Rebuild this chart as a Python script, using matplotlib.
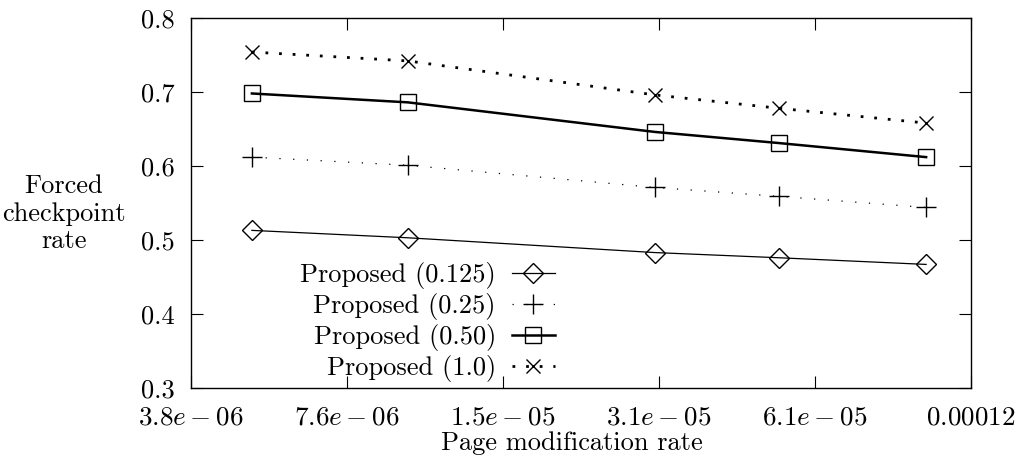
import matplotlib
matplotlib.use('Agg')
import matplotlib.pyplot as plt
import matplotlib.ticker as mticker

# fonts like the LaTeX/gnuplot original
plt.rcParams['font.family'] = 'serif'
plt.rcParams['font.serif'] = ['cmr10']
plt.rcParams['mathtext.fontset'] = 'cm'
plt.rcParams['axes.formatter.use_mathtext'] = True

# data
rates = [5e-6, 1e-5, 3e-5, 5.2e-5, 1e-4]
p0125 = [0.513, 0.503, 0.483, 0.476, 0.467]
p025 = [0.612, 0.601, 0.571, 0.559, 0.544]
p050 = [0.698, 0.686, 0.646, 0.631, 0.612]
p100 = [0.754, 0.742, 0.696, 0.678, 0.658]

xticks = [2**-18, 2**-17, 2**-16, 2**-15, 2**-14, 2**-13]
xticklabels = [r'$3.8e-06$', r'$7.6e-06$', r'$1.5e-05$', r'$3.1e-05$',
               r'$6.1e-05$', r'$0.00012$']
yticks = [0.3, 0.4, 0.5, 0.6, 0.7, 0.8]

fs = 19

fig = plt.figure(figsize=(10.21, 4.57), dpi=100)
ax = fig.add_axes([191 / 1021, 1 - 388 / 457, 780 / 1021, 370 / 457])

ax.plot(rates, p0125, color='black', linewidth=0.9, marker='D', markersize=10,
        markerfacecolor='none', markeredgewidth=1.0, label='Proposed (0.125)')
ax.plot(rates, p025, color='black', linewidth=0.9, linestyle=(0, (1, 10)),
        marker='+', markersize=14, markeredgewidth=1.0, label='Proposed (0.25)')
ax.plot(rates, p050, color='black', linewidth=1.8, marker='s', markersize=11.5,
        markerfacecolor='none', markeredgewidth=1.0, label='Proposed (0.50)')
ax.plot(rates, p100, color='black', linewidth=2.0, linestyle=(0, (1, 3.9)),
        marker='x', markersize=10, markeredgewidth=1.0, label='Proposed (1.0)')

ax.set_xscale('log', base=2)
ax.set_xlim(2**-18, 2**-13)
ax.set_ylim(0.3, 0.8)
ax.xaxis.set_minor_locator(mticker.NullLocator())
ax.set_xticks(xticks)
ax.set_xticklabels(xticklabels, fontsize=19.5)
ax.set_yticks(yticks)
ax.set_yticklabels(['%.1f' % v for v in yticks], fontsize=fs)
ax.tick_params(direction='in', length=8.5, width=0.8, top=True, right=True)
ax.tick_params(axis='x', pad=13)
ax.tick_params(axis='y', pad=12)

for s in ax.spines.values():
    s.set_linewidth(1.0)

ax.set_xlabel('Page modification rate', fontsize=fs)
ax.xaxis.set_label_coords(0.488, -0.118)
ax.set_ylabel('Forced\ncheckpoint\nrate', fontsize=fs, rotation=0,
              ha='center', va='center')
ax.yaxis.set_label_coords(-0.163, 0.47)

ax.legend(loc='upper right', bbox_to_anchor=(0.467, 0.34), frameon=False,
          markerfirst=False, fontsize=fs, handlelength=1.65, handletextpad=0.6,
          labelspacing=0.15, borderpad=0, borderaxespad=0, numpoints=1)

fig.savefig('out.png', dpi=100)
